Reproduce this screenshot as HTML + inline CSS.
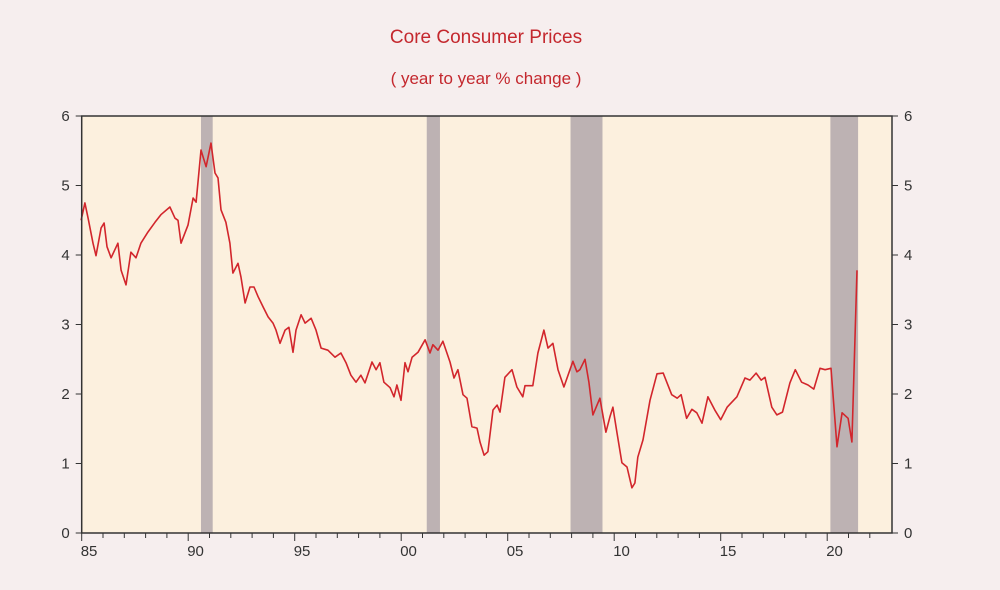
<!DOCTYPE html>
<html><head><meta charset="utf-8"><style>
html,body{margin:0;padding:0;background:#f6eeee;}
svg{display:block;font-family:"Liberation Sans",sans-serif;}
</style></head><body>
<svg id="chart" width="1000" height="590" viewBox="0 0 1000 590">
<rect width="1000" height="590" fill="#f6eeee"/>
<text x="486" y="43" text-anchor="middle" font-size="19" fill="#c4282e">Core Consumer Prices</text>
<text x="486" y="84" text-anchor="middle" font-size="17" fill="#c4282e">( year to year % change )</text>
<g id="plot"></g>
</svg>
<script>
const years=[1984.97,1985.15,1985.30,1985.53,1985.67,1985.91,1986.05,1986.19,1986.38,1986.70,1986.85,1987.08,1987.31,1987.55,1987.78,1988.11,1988.44,1988.72,1989.14,1989.38,1989.52,1989.66,1989.99,1990.23,1990.37,1990.60,1990.84,1991.07,1991.26,1991.40,1991.54,1991.77,1991.96,1992.10,1992.34,1992.48,1992.67,1992.90,1993.09,1993.28,1993.52,1993.75,1993.98,1994.12,1994.31,1994.55,1994.73,1994.92,1995.06,1995.30,1995.49,1995.77,1996.00,1996.24,1996.56,1996.89,1997.17,1997.41,1997.64,1997.88,1998.11,1998.30,1998.63,1998.82,1999.00,1999.19,1999.48,1999.66,1999.80,1999.99,
2000.18,2000.32,2000.51,2000.79,2001.12,2001.35,2001.49,2001.73,2001.96,2002.29,2002.48,2002.66,2002.90,2003.09,2003.32,2003.56,2003.70,2003.89,2004.07,2004.31,2004.50,2004.64,2004.87,2005.20,2005.43,2005.71,2005.81,2006.18,2006.42,2006.70,2006.89,2007.12,2007.36,2007.64,2008.06,2008.25,2008.39,2008.63,2008.81,2009.00,2009.33,2009.61,2009.80,2009.94,2010.13,2010.36,2010.60,2010.83,2010.97,2011.11,2011.35,2011.68,2012.01,
2012.30,2012.70,2012.96,2013.14,2013.40,2013.65,2013.88,2014.12,2014.40,2014.74,2015.00,2015.30,2015.76,2016.14,2016.37,2016.66,2016.90,2017.08,2017.40,2017.64,2017.90,2018.25,2018.50,2018.80,2019.10,2019.37,2019.66,2019.90,2020.18,2020.46,2020.70,2020.98,2021.16,2021.40];
const values=[4.50,4.75,4.53,4.17,3.99,4.39,4.46,4.12,3.96,4.17,3.78,3.57,4.04,3.96,4.17,4.33,4.47,4.58,4.69,4.53,4.50,4.17,4.43,4.82,4.76,5.51,5.27,5.61,5.18,5.11,4.65,4.47,4.17,3.74,3.88,3.68,3.31,3.54,3.54,3.40,3.25,3.11,3.02,2.92,2.73,2.92,2.96,2.60,2.92,3.14,3.02,3.09,2.92,2.66,2.63,2.53,2.59,2.45,2.27,2.17,2.27,2.16,2.46,2.35,2.45,2.17,2.09,1.96,2.13,1.91,
2.45,2.32,2.53,2.60,2.78,2.59,2.71,2.63,2.76,2.46,2.23,2.35,1.99,1.94,1.53,1.51,1.31,1.12,1.17,1.77,1.84,1.74,2.24,2.35,2.10,1.96,2.12,2.12,2.59,2.92,2.66,2.73,2.35,2.10,2.47,2.32,2.35,2.50,2.17,1.70,1.94,1.45,1.67,1.81,1.44,1.01,0.95,0.65,0.72,1.09,1.34,1.91,2.29,
2.30,1.99,1.94,1.99,1.65,1.78,1.73,1.58,1.96,1.76,1.63,1.81,1.96,2.23,2.20,2.30,2.20,2.24,1.81,1.70,1.74,2.16,2.35,2.17,2.13,2.07,2.37,2.35,2.37,1.24,1.73,1.65,1.31,3.78];
const recessions=[[1990.6,1991.15],[1991.15,1991.15],[2001.2,2001.82],[2007.95,2009.45],[2020.15,2021.45]];
const yTicks=[0,1,2,3,4,5,6];
const xMajor=[1985,1990,1995,2000,2005,2010,2015,2020];
const xLabels=["85","90","95","00","05","10","15","20"];

const L=81.7,R=892,T=116,B=533;
const X=y=>L+(y-1985)*21.3;
const Y=v=>B-(v/6)*(B-T);
const NS="http://www.w3.org/2000/svg";
const g=document.getElementById('plot');
function mk(tag,attrs){const e=document.createElementNS(NS,tag);for(const k in attrs)e.setAttribute(k,attrs[k]);g.appendChild(e);return e;}

let e=mk('rect',{x:L,y:T,width:R-L,height:B-T,fill:'#fcf0de'});


recessions.forEach(r=>{if(r[1]<=r[0])return;
 const el=mk('rect',{x:X(r[0]),y:T,width:X(r[1])-X(r[0]),height:B-T,fill:'#bdb2b3'});
 
 
});
let d='';years.forEach((yr,i)=>{d+=(i?'L':'M')+X(yr).toFixed(1)+','+Y(values[i]).toFixed(1);});
e=mk('path',{d:d,fill:'none',stroke:'#d2262c',"stroke-width":1.6,"stroke-linejoin":'round'});


e=mk('rect',{x:L,y:T,width:R-L,height:B-T,fill:'none',stroke:'#333','stroke-width':1.5});


yTicks.forEach(v=>{
 mk('line',{x1:L-6,x2:L,y1:Y(v),y2:Y(v),stroke:'#333','stroke-width':1});
 mk('line',{x1:R,x2:R+6,y1:Y(v),y2:Y(v),stroke:'#333','stroke-width':1});
 const a=mk('text',{x:L-12,y:Y(v)+5,'text-anchor':'end','font-size':15,fill:'#333'});a.textContent=v;
 
 
 const b=mk('text',{x:R+12,y:Y(v)+5,'font-size':15,fill:'#333'});b.textContent=v;
 
 
});
for(let yr=1985;yr<=2022;yr++){
 const maj=yr%5===0;
 mk('line',{x1:X(yr),x2:X(yr),y1:B,y2:B+(maj?8:5),stroke:'#333','stroke-width':1});
}
xMajor.forEach((yr,i)=>{
 const t=mk('text',{x:X(yr)-1,y:B+23,'font-size':15,fill:'#333'});t.textContent=xLabels[i];
 
 
});
</script>
</body></html>
